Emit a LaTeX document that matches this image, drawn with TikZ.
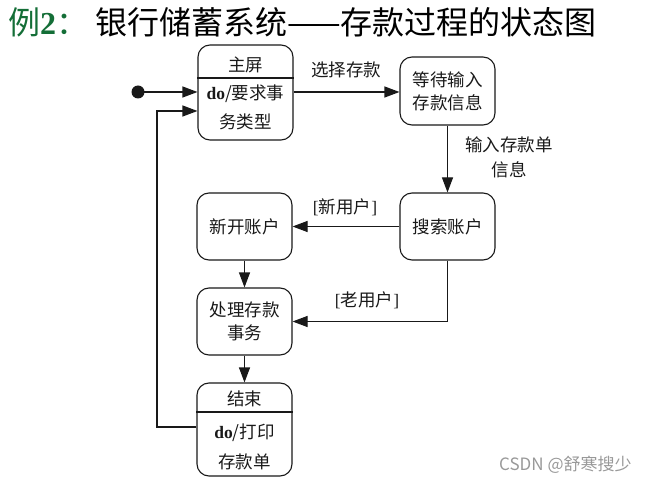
\documentclass[tikz,border=0pt]{standalone}
\usepackage{fontspec}
\setmainfont{Liberation Serif}
\newfontfamily\cjk{Noto Sans CJK SC}
\usetikzlibrary{arrows.meta}
\definecolor{titlegreen}{RGB}{20,110,55}
\definecolor{ink}{RGB}{25,25,25}
\begin{document}
\begin{tikzpicture}[x=1pt,y=-1pt,
  statebox/.style={draw=ink,line width=1.1pt,rounded corners=12pt,inner sep=0pt},
  lbl/.style={inner sep=0pt,text=ink,font=\cjk\fontsize{17.5}{20}\selectfont},
  conn/.style={draw=ink,line width=1.1pt,-{Triangle[length=15pt,width=11pt]}},
  plain/.style={draw=ink,line width=1.1pt}]
\useasboundingbox (0,0) rectangle (666,486);
% title
\node[anchor=west,inner sep=0pt,text=titlegreen] (t1) at (8,22) {\cjk\fontsize{32}{32}\selectfont 例\rmfamily\bfseries 2\cjk\mdseries ：};
\node[anchor=west,inner sep=0pt,text=black] (t2) at (95,22) {\cjk\fontsize{32}{32}\selectfont 银行储蓄系统——存款过程的状态图};
% states
\node[statebox,minimum width=95pt,minimum height=95pt] (zp) at (245.5,92.5) {};
\draw[plain] (zp.west |- 0,78) -- (zp.east |- 0,78);
\node[lbl] (zpa) at (245.5,65) {主屏};
\node[lbl] (zpb) at (245.5,94) {{\rmfamily\bfseries do}/要求事};
\node[lbl] (zpc) at (245.5,122) {务类型};

\node[statebox,minimum width=95pt,minimum height=68pt,lbl,align=center] (dd) at (447.5,91) {等待输入\\[3pt]存款信息};
\node[statebox,minimum width=95pt,minimum height=67pt,lbl] (ss) at (447.5,226.5) {搜索账户};
\node[statebox,minimum width=95pt,minimum height=67pt,lbl] (xk) at (244.5,226.5) {新开账户};
\node[statebox,minimum width=95pt,minimum height=67pt,lbl,align=center] (cl) at (244.5,321.5) {处理存款\\[3pt]事务};

\node[statebox,minimum width=95pt,minimum height=93pt] (js) at (244.5,429.5) {};
\draw[plain] (js.west |- 0,412) -- (js.east |- 0,412);
\node[lbl] (jsa) at (244.5,399) {结束};
\node[lbl] (jsb) at (244.5,433) {{\rmfamily\bfseries do}/打印};
\node[lbl] (jsc) at (244.5,462) {存款单};

% initial
\fill[ink] (138,92) circle (6.5pt);
\coordinate (init) at (138,92);
\coordinate (loopA) at (157,427);
\coordinate (loopB) at (157,111);

% connectors
\draw[conn] (init) -- (zp.west |- init);
\draw[conn] (zp.east |- 0,92) -- (dd.west |- 0,92);
\node[lbl] (l1) at (346,70) {选择存款};
\draw[conn] (dd.south) -- (ss.north);
\node[lbl] (l2) at (509,145) {输入存款单};
\node[lbl] (l3) at (509,170) {信息};
\draw[conn] (ss.west) -- (xk.east);
\node[lbl] (l4) at (345,207) {{\rmfamily[}新用户{\rmfamily]}};
\draw[conn] (xk.south) -- (cl.north);
\draw[conn] (ss.south) |- (cl.east);
\node[lbl] (l5) at (367,300) {{\rmfamily[}老用户{\rmfamily]}};
\draw[conn] (cl.south) -- (js.north);
\draw[conn] (js.west |- loopA) -- (loopA) -- (loopB) -- (zp.west |- loopB);
% watermark
\node[anchor=west,inner sep=0pt,text=black!40,font=\cjk\fontsize{17}{17}\selectfont] (wm) at (499,465) {CSDN @舒寒搜少};
\end{tikzpicture}
\end{document}
